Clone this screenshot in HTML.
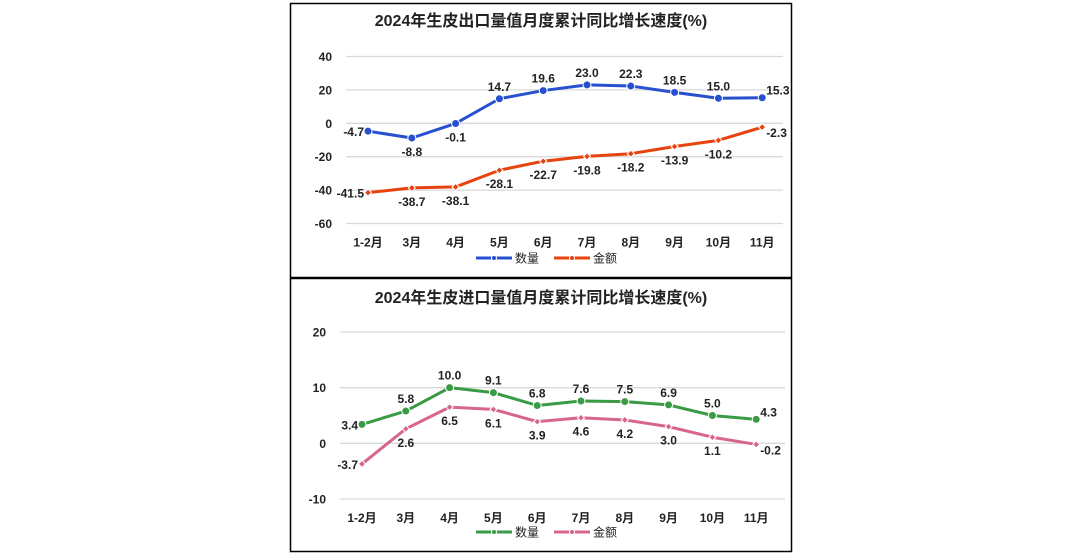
<!DOCTYPE html>
<html><head><meta charset="utf-8">
<style>
html,body{margin:0;padding:0;background:#fff;}
body{width:1082px;height:554px;overflow:hidden;position:relative;font-family:"Liberation Sans","Noto Sans CJK SC",sans-serif;}
svg text{font-family:"Liberation Sans","Noto Sans CJK SC",sans-serif;}
</style></head>
<body>
<svg id="svg" width="1082" height="554" xmlns="http://www.w3.org/2000/svg">
<rect x="290.5" y="3.5" width="501" height="274" fill="#fff" stroke="#000" stroke-width="1.5"/>
<rect x="290.5" y="278.5" width="501" height="273" fill="#fff" stroke="#000" stroke-width="1.5"/>
<text x="541" y="26" text-anchor="middle" font-size="16" font-weight="bold" fill="#222">2024年生皮出口量值月度累计同比增长速度(%)</text>
<text x="541" y="303" text-anchor="middle" font-size="16" font-weight="bold" fill="#222">2024年生皮进口量值月度累计同比增长速度(%)</text>
<g id="g1"></g><g id="g2"></g>
</svg>
<script>
const categories = ["1-2月","3月","4月","5月","6月","7月","8月","9月","10月","11月"];
const exportQty = [-4.7,-8.8,-0.1,14.7,19.6,23.0,22.3,18.5,15.0,15.3];
const exportVal = [-41.5,-38.7,-38.1,-28.1,-22.7,-19.8,-18.2,-13.9,-10.2,-2.3];
const importQty = [3.4,5.8,10.0,9.1,6.8,7.6,7.5,6.9,5.0,4.3];
const importVal = [-3.7,2.6,6.5,6.1,3.9,4.6,4.2,3.0,1.1,-0.2];
const exportTicks = [40,20,0,-20,-40,-60];
const importTicks = [20,10,0,-10];
const exportQtyPos = ["l","b","b","a","a","a","a","a","a","r"];
const exportValPos = ["l","b","b","b","b","b","b","b","b","r"];
const importQtyPos = ["l","a","a","a","a","a","a","a","a","r"];
const importValPos = ["l","b","b","b","b","b","b","b","b","r"];

const NS="http://www.w3.org/2000/svg";
function mk(parent,tag,attrs){const e=document.createElementNS(NS,tag);for(const k in attrs)e.setAttribute(k,attrs[k]);parent.appendChild(e);return e;}

function drawChart(g,cfg){
  const {x0,step,gx0,gx1,yTop,yBot,vMax,vMin,ticks,series,legendY,prefix}=cfg;
  const xs=i=>x0+i*step;
  const ys=v=>yTop+(vMax-v)/(vMax-vMin)*(yBot-yTop);
  ticks.forEach(t=>{
    const l=mk(g,'line',{x1:gx0,x2:gx1,y1:ys(t),y2:ys(t),stroke:'#d9d9d9','stroke-width':1.3});
    
    
    const tx=mk(g,'text',{x:gx0-14,y:ys(t)+4.5,'text-anchor':'end','font-size':12,'font-weight':'bold',fill:'#222'});
    tx.textContent=t;
    
    
  });
  categories.forEach((c,i)=>{
    const tx=mk(g,'text',{x:xs(i),y:yBot+23,'text-anchor':'middle','font-size':12,'font-weight':'bold',fill:'#222'});
    tx.textContent=c;
    
    
  });
  series.forEach(s=>{
    const pts=s.data.map((v,i)=>xs(i)+','+ys(v)).join(' ');
    const pl=mk(g,'polyline',{points:pts,fill:'none',stroke:s.color,'stroke-width':3,'stroke-linejoin':'round'});
    
    
    s.data.forEach((v,i)=>{
      const x=xs(i),y=ys(v);
      const m=s.diamond?mk(g,'path',{d:`M${x},${y-3.5}L${x+3.5},${y}L${x},${y+3.5}L${x-3.5},${y}Z`,fill:s.color,stroke:'#fff','stroke-width':1}):mk(g,'circle',{cx:x,cy:y,r:4,fill:s.color,stroke:'#fff','stroke-width':1});
      
      
      const p=s.pos[i];
      let lx=x,ly=y,anc='middle';
      if(p==='a'){ly=y-8;}else if(p==='b'){ly=y+18;}else if(p==='l'){lx=x-4;ly=y+5;anc='end';}else{lx=x+4;ly=y-3;anc='start';}
      if(p==='r'&&s.diamond)ly=y+10;
      const t=mk(g,'text',{x:lx,y:ly,'text-anchor':anc,'font-size':12,'font-weight':'bold',fill:'#222'});
      t.textContent=v.toFixed(1);
      
      
    });
  });
  let lx=476;
  series.forEach((s,k)=>{
    const bx=lx+k*78;
    const ln=mk(g,'line',{x1:bx,x2:bx+36,y1:legendY,y2:legendY,stroke:s.color,'stroke-width':3});
    
    
    mk(g,'circle',{cx:bx+18,cy:legendY,r:2.5,fill:s.color,stroke:'#fff','stroke-width':1});
    const t=mk(g,'text',{x:bx+39,y:legendY+4.5,'font-size':12,fill:'#222'});
    t.textContent=s.label;
    
    
  });
}
drawChart(document.getElementById('g1'),{x0:368,step:43.8,gx0:346,gx1:783,yTop:56.5,yBot:223.5,vMax:40,vMin:-60,ticks:exportTicks,legendY:258,prefix:'export-',
 series:[{name:'quantity',label:'数量',data:exportQty,color:'#2650d0',pos:exportQtyPos,diamond:false},
         {name:'value',label:'金额',data:exportVal,color:'#e8420e',pos:exportValPos,diamond:true}]});
drawChart(document.getElementById('g2'),{x0:362,step:43.8,gx0:340,gx1:785,yTop:332,yBot:499,vMax:20,vMin:-10,ticks:importTicks,legendY:532,prefix:'import-',
 series:[{name:'quantity',label:'数量',data:importQty,color:'#3a9a45',pos:importQtyPos,diamond:false},
         {name:'value',label:'金额',data:importVal,color:'#d8658c',pos:importValPos,diamond:true}]});
</script>
</body></html>
